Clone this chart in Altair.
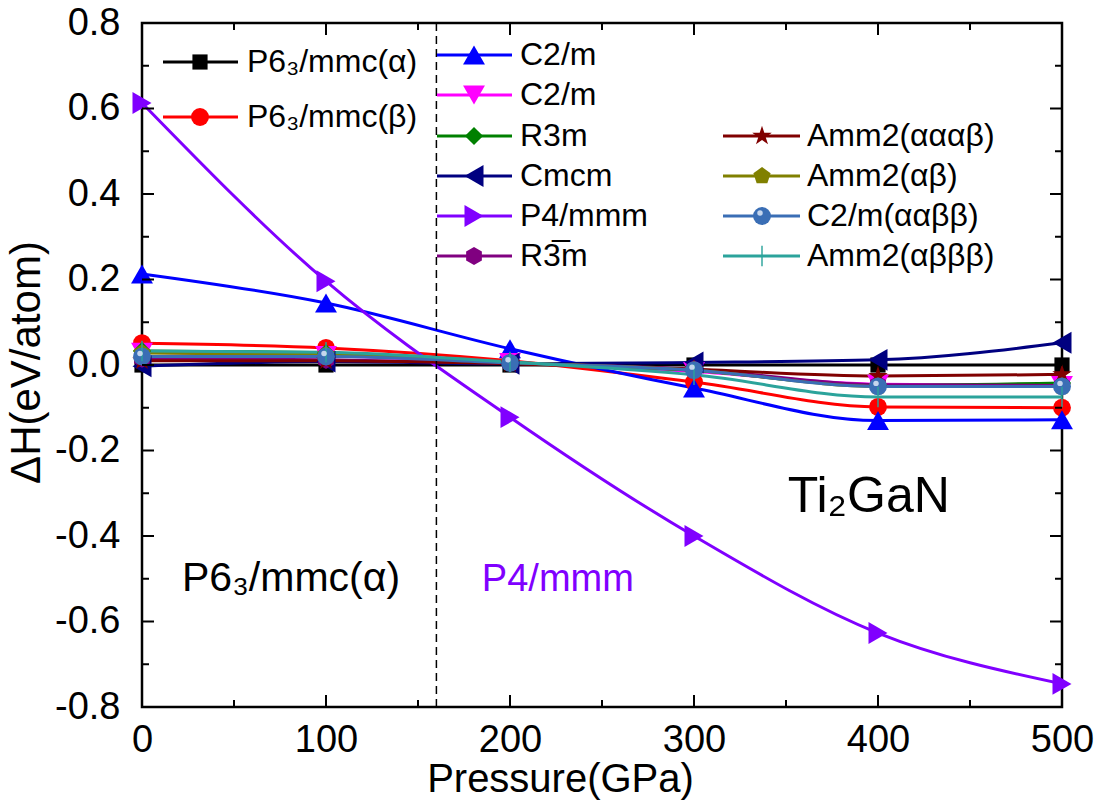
import altair as alt
import pandas as pd

# ---------------- data ----------------
pressure = [0, 100, 200, 300, 400, 500]

keys = ["a", "b", "c2m1", "c2m2", "r3m", "cmcm", "p4", "rm3m", "amm1", "amm2", "c2m3", "amm3"]
labels = ["P6\u2083/mmc(\u03b1)", "P6\u2083/mmc(\u03b2)", "C2/m", "C2/m", "R3m", "Cmcm",
          "P4/mmm", "R3\u0305m", "Amm2(\u03b1\u03b1\u03b1\u03b2)", "Amm2(\u03b1\u03b2)",
          "C2/m(\u03b1\u03b1\u03b2\u03b2)", "Amm2(\u03b1\u03b2\u03b2\u03b2)"]

dH = {
    "a":    [0.000, 0.000, 0.000, 0.000, 0.000, 0.000],
    "b":    [0.051, 0.040, 0.010, -0.040, -0.098, -0.100],
    "c2m1": [0.213, 0.145, 0.038, -0.054, -0.130, -0.128],
    "c2m2": [0.030, 0.022, 0.006, -0.015, -0.045, -0.048],
    "r3m":  [0.033, 0.028, 0.006, -0.013, -0.048, -0.042],
    "cmcm": [-0.003, 0.008, 0.003, 0.006, 0.012, 0.052],
    "p4":   [0.613, 0.196, -0.122, -0.400, -0.627, -0.746],
    "rm3m": [0.015, 0.012, 0.004, -0.010, -0.046, -0.048],
    "amm1": [0.010, 0.010, 0.003, -0.010, -0.026, -0.022],
    "amm2": [0.028, 0.024, 0.006, -0.012, -0.050, -0.050],
    "c2m3": [0.020, 0.020, 0.005, -0.012, -0.050, -0.050],
    "amm3": [0.033, 0.030, 0.007, -0.023, -0.075, -0.075],
}

colors = ["#000000", "#FF0000", "#0000FF", "#FF00FF", "#008000", "#000080",
          "#8000FF", "#800080", "#800000", "#808000", "#3A6EB5", "#2BA39B"]

HEX = "M0,-1L0.866,-0.5L0.866,0.5L0,1L-0.866,0.5L-0.866,-0.5Z"
STAR = ("M0,-1L0.2245,-0.309L0.951,-0.309L0.3633,0.118L0.5878,0.809L0,0.382"
        "L-0.5878,0.809L-0.3633,0.118L-0.951,-0.309L-0.2245,-0.309Z")
PENT = "M0,-1L0.951,-0.309L0.588,0.809L-0.588,0.809L-0.951,-0.309Z"
VBAR = "M-0.07,-1L0.07,-1L0.07,1L-0.07,1Z"
shapes = ["square", "circle", "triangle-up", "triangle-down", "diamond", "triangle-left",
          "triangle-right", HEX, STAR, PENT, "circle", VBAR]
sizes = [230, 320, 480, 480, 330, 480, 480, 330, 420, 330, 320, 420]

x_major = [0, 100, 200, 300, 400, 500]
x_minor = [50, 150, 250, 350, 450]
y_major = [-0.8, -0.6, -0.4, -0.2, 0.0, 0.2, 0.4, 0.6, 0.8]
y_minor = [-0.7, -0.5, -0.3, -0.1, 0.1, 0.3, 0.5, 0.7]

transition_p = [160]

ann_text = ["Ti\u2082GaN", "P6\u2083/mmc(\u03b1)", "P4/mmm"]
ann_x = [395, 81, 226]
ann_y = [-0.345, -0.528, -0.528]
ann_size = [50, 41, 38]
ann_color = ["#000000", "#000000", "#8000FF"]

# ---------------- layout ----------------
W, H = 920, 684
FONT = "Liberation Sans"

def px2x(px):
    return px / W * 500.0

def px2y(py):
    return 0.8 - py / H * 1.6

# legend layout (pixels from plot origin): columns (line start, line end, marker, text)
cols = {
    0: (21, 96, 58, 105),
    1: (295, 370, 332, 378),
    2: (581, 658, 620, 665),
}
leg_rows = {
    "a": (0, 39), "b": (0, 94),
    "c2m1": (1, 32), "c2m2": (1, 72), "r3m": (1, 113), "cmcm": (1, 153), "p4": (1, 193), "rm3m": (1, 233),
    "amm1": (2, 113), "amm2": (2, 153), "c2m3": (2, 193), "amm3": (2, 233),
}

size_of = dict(zip(keys, sizes))

rows = []
for k in keys:
    for p, v in zip(pressure, dH[k]):
        rows.append({"key": k, "P": p, "dH": v, "sz": size_of[k]})
df = pd.DataFrame(rows)

leg = []
for k, lab in zip(keys, labels):
    c, ry = leg_rows[k]
    x1, x2, xm, xt = cols[c]
    leg.append({"key": k, "label": lab, "x1": px2x(x1), "x2": px2x(x2),
                "xm": px2x(xm), "xt": px2x(xt), "y": px2y(ry), "sz": size_of[k]})
leg_df = pd.DataFrame(leg)

color_scale = alt.Scale(domain=keys, range=colors)
shape_scale = alt.Scale(domain=keys, range=shapes)
xs = alt.Scale(domain=[0, 500], nice=False, zero=False)
ys = alt.Scale(domain=[-0.8, 0.8], nice=False, zero=False)

x_enc = alt.X("P:Q", scale=xs,
              axis=alt.Axis(values=x_major, title="Pressure(GPa)", ticks=False, tickSize=0,
                            domain=False, grid=False, labelFontSize=38, labelFont=FONT,
                            labelColor="black", labelPadding=14, labelOverlap=False,
                            labelFlush=False, titleFont=FONT, titleFontSize=40,
                            titleFontWeight="normal", titleColor="black",
                            titleX=418, titleY=84, titleAlign="center",
                            titleBaseline="alphabetic"))
y_enc = alt.Y("dH:Q", scale=ys,
              axis=alt.Axis(values=y_major, title="\u0394H(eV/atom)", ticks=False, tickSize=0,
                            domain=False, grid=False, labelFontSize=38, labelFont=FONT,
                            labelColor="black", labelPadding=22, labelOverlap=False,
                            labelFlush=False,
                            labelExpr="replace(format(datum.value, '.1f'), '\u2212', '-')",
                            titleFont=FONT, titleFontSize=42, titleFontWeight="normal",
                            titleColor="black", titleX=-103, titleY=339,
                            titleAlign="center", titleBaseline="alphabetic", titleAngle=270))

base = alt.Chart(df)

lines = base.mark_line(interpolate="monotone", strokeWidth=3).encode(
    x=x_enc, y=y_enc,
    color=alt.Color("key:N", scale=color_scale, legend=None),
    detail="key:N",
)

points = base.mark_point(filled=True, opacity=1).encode(
    x="P:Q", y="dH:Q",
    color=alt.Color("key:N", scale=color_scale, legend=None),
    shape=alt.Shape("key:N", scale=shape_scale, legend=None),
    size=alt.Size("sz:Q", scale=None, legend=None),
)

# sphere highlight for C2/m(aabb)
hl = alt.Chart(df[df["key"] == "c2m3"]).mark_point(
    filled=True, opacity=0.85, size=30, color="#DDE8F7", xOffset=-2, yOffset=-3, shape="circle"
).encode(x="P:Q", y="dH:Q")

# dashed transition line
trans = alt.Chart(pd.DataFrame({"P": transition_p})).mark_rule(
    color="black", strokeWidth=1.5, strokeDash=[8, 5]).encode(x="P:Q")

# inward ticks
def tick_layer(vals, field, axis, length):
    d = pd.DataFrame({field: vals})
    ch = alt.Chart(d).mark_rule(color="black", strokeWidth=2)
    if axis == "x":
        bot = ch.encode(x=alt.X(f"{field}:Q"), y=alt.value(H), y2=alt.value(H - length))
        top = ch.encode(x=alt.X(f"{field}:Q"), y=alt.value(0), y2=alt.value(length))
    else:
        bot = ch.encode(y=alt.Y(f"{field}:Q"), x=alt.value(0), x2=alt.value(length))
        top = ch.encode(y=alt.Y(f"{field}:Q"), x=alt.value(W), x2=alt.value(W - length))
    return [bot, top]

ticks = (tick_layer(x_major, "P", "x", 12) + tick_layer(x_minor, "P", "x", 7)
         + tick_layer(y_major, "dH", "y", 12) + tick_layer(y_minor, "dH", "y", 7))

# annotations
ann_df = pd.DataFrame({"t": ann_text, "P": ann_x, "dH": ann_y, "s": ann_size, "c": ann_color})
ann = alt.Chart(ann_df).mark_text(font=FONT, align="center", baseline="alphabetic").encode(
    x="P:Q", y="dH:Q", text="t:N",
    size=alt.Size("s:Q", scale=None, legend=None),
    color=alt.Color("c:N", scale=None, legend=None),
)

# legend
legb = alt.Chart(leg_df)
leg_lines = legb.mark_rule(strokeWidth=3).encode(
    x=alt.X("x1:Q"), x2="x2:Q", y=alt.Y("y:Q"),
    color=alt.Color("key:N", scale=color_scale, legend=None))
leg_pts = legb.mark_point(filled=True, opacity=1).encode(
    x=alt.X("xm:Q"), y=alt.Y("y:Q"),
    color=alt.Color("key:N", scale=color_scale, legend=None),
    shape=alt.Shape("key:N", scale=shape_scale, legend=None),
    size=alt.Size("sz:Q", scale=None, legend=None))
leg_hl = alt.Chart(leg_df[leg_df["key"] == "c2m3"]).mark_point(
    filled=True, opacity=0.85, size=30, color="#DDE8F7", xOffset=-2, yOffset=-3, shape="circle"
).encode(x="xm:Q", y="y:Q")
leg_txt = legb.mark_text(font=FONT, fontSize=32, align="left", baseline="middle",
                         color="black").encode(
    x=alt.X("xt:Q"), y=alt.Y("y:Q"), text="label:N")

chart = alt.layer(
    lines, trans, points, hl, *ticks, ann, leg_lines, leg_pts, leg_hl, leg_txt
).properties(
    width=W, height=H,
    autosize=alt.AutoSizeParams(type="none"),
    padding={"left": 142, "top": 23, "right": 39, "bottom": 100},
    background="white",
).configure_view(stroke="black", strokeWidth=2.5)

chart.save("out.html", embed_options={"renderer": "svg", "actions": False})
